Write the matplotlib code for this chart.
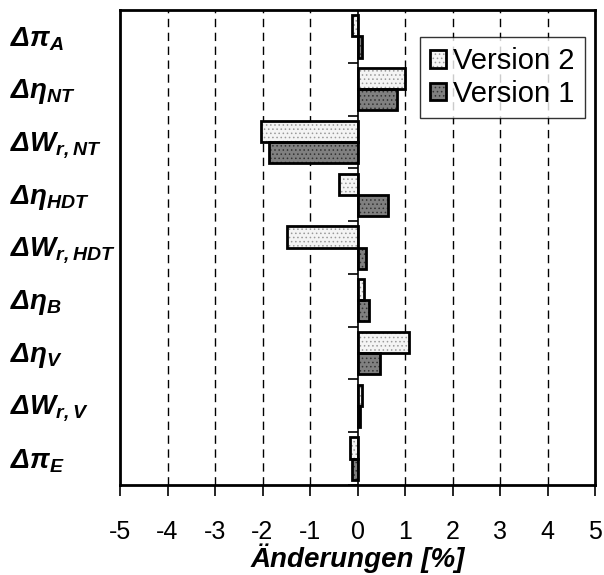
import matplotlib.pyplot as plt
import matplotlib.transforms as mtransforms
import numpy as np

plt.rcParams['font.family'] = ['Liberation Sans', 'DejaVu Sans']
plt.rcParams['mathtext.fontset'] = 'custom'
plt.rcParams['mathtext.bfit'] = 'Liberation Sans:italic:bold'
plt.rcParams['mathtext.it'] = 'Liberation Sans:italic:bold'
plt.rcParams['mathtext.rm'] = 'Liberation Sans:italic:bold'
plt.rcParams['mathtext.bf'] = 'Liberation Sans:italic:bold'
plt.rcParams['hatch.linewidth'] = 0.6

categories = [r'$\Delta\pi_A$', r'$\Delta\eta_{NT}$', r'$\Delta W_{r,NT}$',
              r'$\Delta\eta_{HDT}$', r'$\Delta W_{r,HDT}$', r'$\Delta\eta_B$',
              r'$\Delta\eta_V$', r'$\Delta W_{r,V}$', r'$\Delta\pi_E$']
version2 = [-0.11, 1.0, -2.04, -0.38, -1.49, 0.14, 1.08, 0.10, -0.16]
version1 = [0.10, 0.83, -1.86, 0.65, 0.18, 0.24, 0.47, 0.05, -0.12]
xticks = [-5, -4, -3, -2, -1, 0, 1, 2, 3, 4, 5]

fig = plt.figure(figsize=(6.04, 5.75), dpi=100)
ax = fig.add_axes([120 / 604, 1 - 485 / 575, 475 / 604, 475 / 575])

y = np.arange(len(categories))
h = 0.4

# dashed grid
for xv in xticks[1:-1]:
    if xv != 0:
        ax.axvline(xv, color='black', lw=1, ls=(0, (6, 4)), zorder=0)

# hatched fill then black outline
p2h = ax.barh(y - h / 2, version2, height=h, color='#f4f4f4', edgecolor='#9a9a9a',
              hatch='....', lw=0, zorder=2)
p2o = ax.barh(y - h / 2, version2, height=h, fill=False, edgecolor='black', lw=2, zorder=3)
p1h = ax.barh(y + h / 2, version1, height=h, color='#808080', edgecolor='#333333',
              hatch='....', lw=0, zorder=2)
p1o = ax.barh(y + h / 2, version1, height=h, fill=False, edgecolor='black', lw=2, zorder=3)

ax.axvline(0, color='black', lw=1.2, zorder=4)
# category ticks on the zero axis
ax.hlines(np.arange(len(categories) + 1) - 0.5, -0.2, 0, color='black', lw=1.2, zorder=4)

ax.set_xlim(-5, 5)
ax.set_ylim(len(categories) - 0.5, -0.5)
ax.set_xticks(xticks)
ax.set_xticklabels([str(v) for v in xticks], fontsize=18)
ax.tick_params(axis='x', direction='out', length=8, width=1.2, pad=17)
ax.set_yticks([])
for s in ax.spines.values():
    s.set_linewidth(2)

trans = mtransforms.blended_transform_factory(fig.transFigure, ax.transData)
for yi, lab in zip(y, categories):
    ax.text(10 / 604, yi + 0.05, lab, transform=trans, ha='left', va='center',
            fontsize=20, clip_on=False)

ax.set_xlabel('Änderungen [%]', fontsize=20, fontweight='bold', fontstyle='italic',
              labelpad=0)

leg = ax.legend([(p2h[0], p2o[0]), (p1h[0], p1o[0])], ['Version 2', 'Version 1'],
                loc='upper right', bbox_to_anchor=(0.979, 0.943), borderaxespad=0,
                fontsize=21, frameon=True, fancybox=False, handlelength=0.55,
                handleheight=0.55, handletextpad=0.25, borderpad=0.35, labelspacing=0.15)
leg.get_frame().set_edgecolor('black')
leg.get_frame().set_linewidth(1)

fig.savefig('out.png', dpi=100)
